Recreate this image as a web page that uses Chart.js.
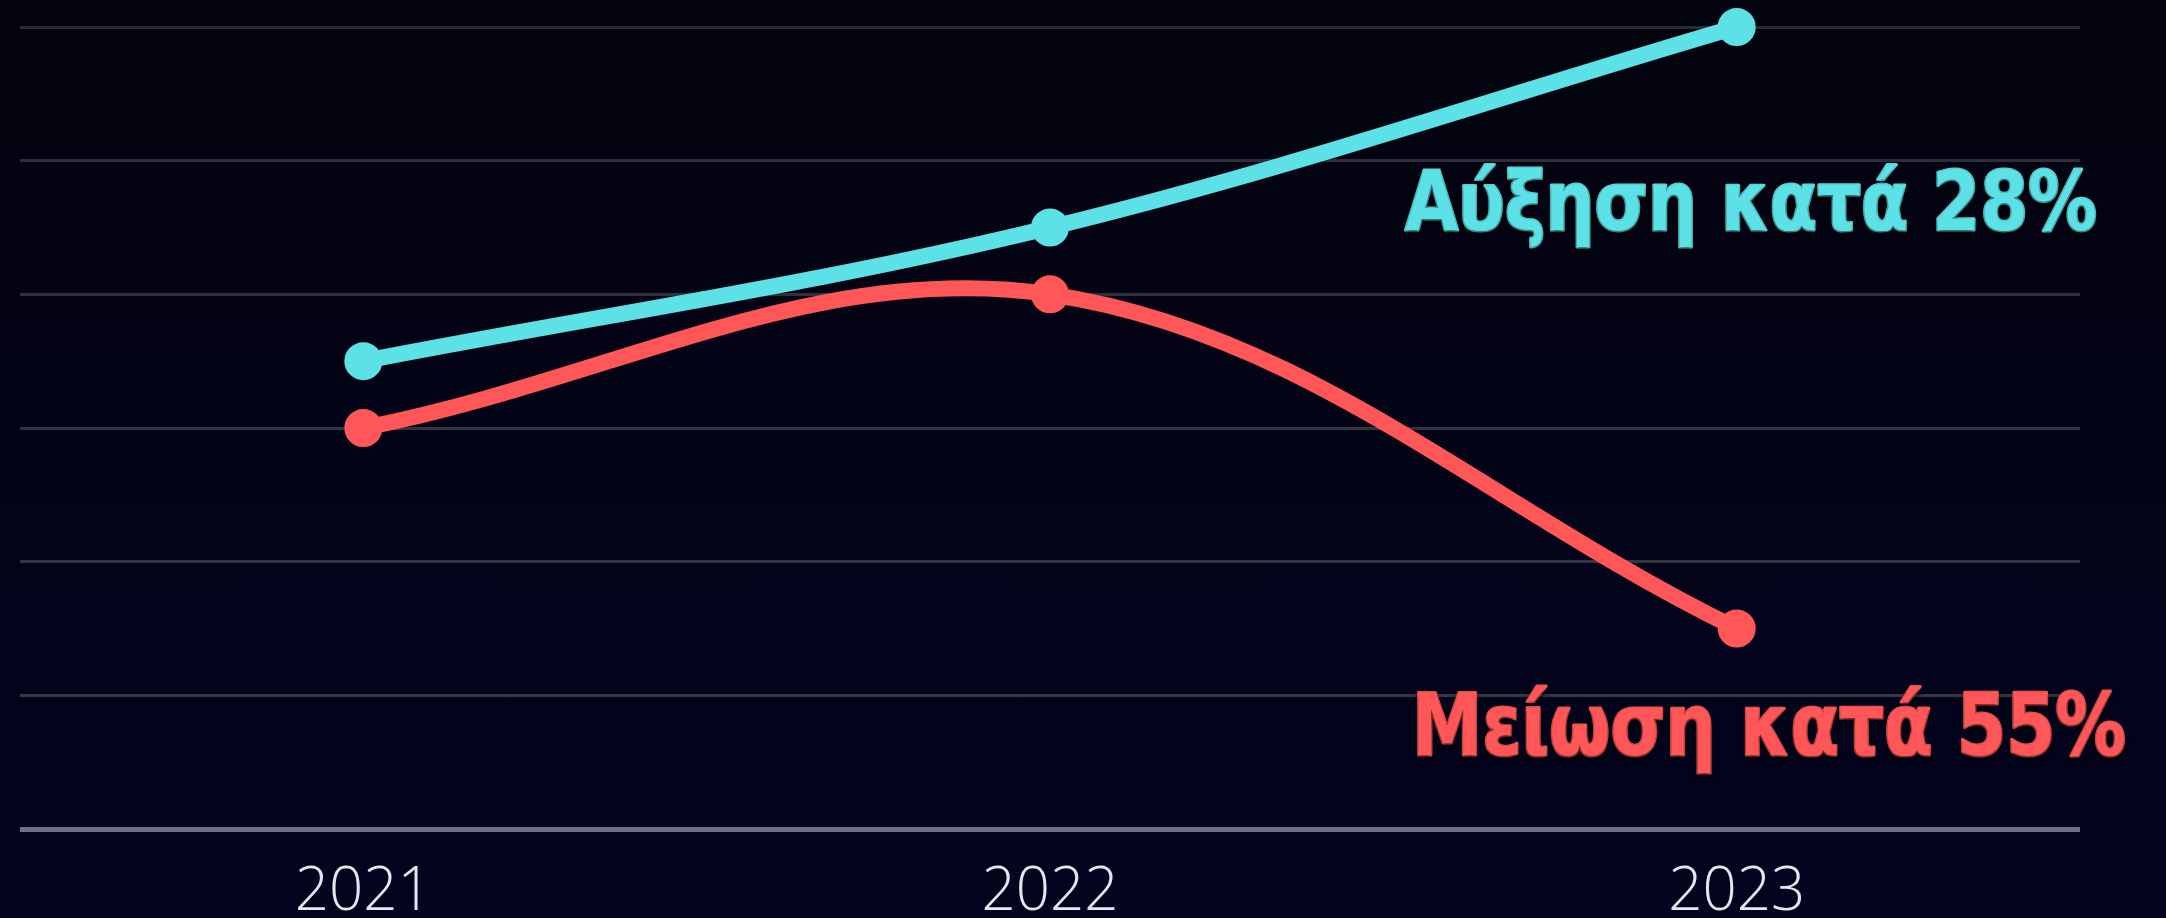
<!DOCTYPE html>
<html>
<head>
<meta charset="utf-8">
<script src="https://cdn.jsdelivr.net/npm/chart.js@4.4.1/dist/chart.umd.min.js"></script>
<style>
  html, body { margin: 0; padding: 0; }
  body {
    width: 2166px; height: 918px; overflow: hidden;
    background: linear-gradient(180deg, #04040e 0%, #03031a 60%, #04041f 100%);
  }
  #wrap { width: 2166px; height: 918px; position: relative; }
</style>
</head>
<body>
<div id="wrap"><canvas id="myChart"></canvas></div>
<script>
// data (y axis has no labels, so units are relative)
var years = ["2021", "2022", "2023"];
var growth = [3.5, 4.5, 6];
var decline = [3, 4, 1.5];
var yTicks = [0, 1, 2, 3, 4, 5, 6];

var cyan = "#5ce1e6";
var red = "#ff5757";

// annotation texts drawn next to the last point
var notes = [
  { text: "Αύξηση κατά 28%", color: cyan, cx: 1751, base: 230, cap: 60, width: 692 },
  { text: "Μείωση κατά 55%", color: red, cx: 1769, base: 755, cap: 63, width: 714 }
];

var notePlugin = {
  id: "notes",
  afterDatasetsDraw: function (chart) {
    var ctx = chart.ctx;
    notes.forEach(function (n) {
      var size = Math.round(n.cap / 0.73);
      ctx.save();
      ctx.font = "bold " + size + "px 'DejaVu Sans Condensed', 'DejaVu Sans', sans-serif";
      var w = ctx.measureText(n.text).width;
      var sx = n.width / w;
      ctx.translate(n.cx, n.base);
      ctx.scale(sx, 1);
      ctx.textAlign = "center";
      ctx.textBaseline = "alphabetic";
      ctx.shadowColor = "rgba(0,0,0,0.6)";
      ctx.shadowBlur = 6;
      ctx.shadowOffsetY = 3;
      ctx.fillStyle = n.color;
      ctx.strokeStyle = n.color;
      ctx.lineWidth = 3;
      ctx.lineJoin = "round";
      ctx.strokeText(n.text, 0, 0);
      ctx.fillText(n.text, 0, 0);
      ctx.restore();
    });
  }
};

function gridColor(c) {
  if (c.index === 0) return "#6e6e84";
  var t = c.index / (yTicks.length - 1);
  var a = Math.round(0x3a - t * 0x0e);
  var h = a.toString(16);
  return "#" + h + h + (a + 12).toString(16);
}

var myChart = new Chart(document.getElementById("myChart"), {
  type: "line",
  data: {
    labels: years,
    datasets: [{
      label: "growth",
      data: growth,
      borderColor: cyan,
      backgroundColor: cyan,
      borderWidth: 16,
      pointRadius: 18,
      pointBorderWidth: 2,
      pointBorderColor: cyan,
      tension: 0.35,
      clip: false,
      fill: false
    }, {
      label: "decline",
      data: decline,
      borderColor: red,
      backgroundColor: red,
      borderWidth: 16,
      pointRadius: 18,
      pointBorderWidth: 2,
      pointBorderColor: red,
      tension: 0.36,
      clip: false,
      fill: false
    }]
  },
  options: {
    responsive: true,
    maintainAspectRatio: false,
    animation: false,
    layout: { padding: { left: 18, right: 86, top: 27, bottom: -39 } },
    plugins: { legend: { display: false }, tooltip: { enabled: false } },
    scales: {
      x: {
        offset: true,
        grid: { display: false, drawTicks: false },
        border: { display: false },
        ticks: {
          color: "#e6e6ee",
          padding: 28,
          font: { family: "'Open Sans', 'Noto Sans', sans-serif", size: 60, weight: "300" }
        }
      },
      y: {
        min: 0,
        max: 6,
        afterBuildTicks: function (axis) {
          axis.ticks = yTicks.map(function (v) { return { value: v }; });
        },
        ticks: { display: false },
        border: { display: false },
        grid: {
          drawTicks: false,
          color: gridColor,
          lineWidth: function (c) { return c.index === 0 ? 5 : 3; }
        }
      }
    }
  },
  plugins: [notePlugin]
});
</script>
</body>
</html>
